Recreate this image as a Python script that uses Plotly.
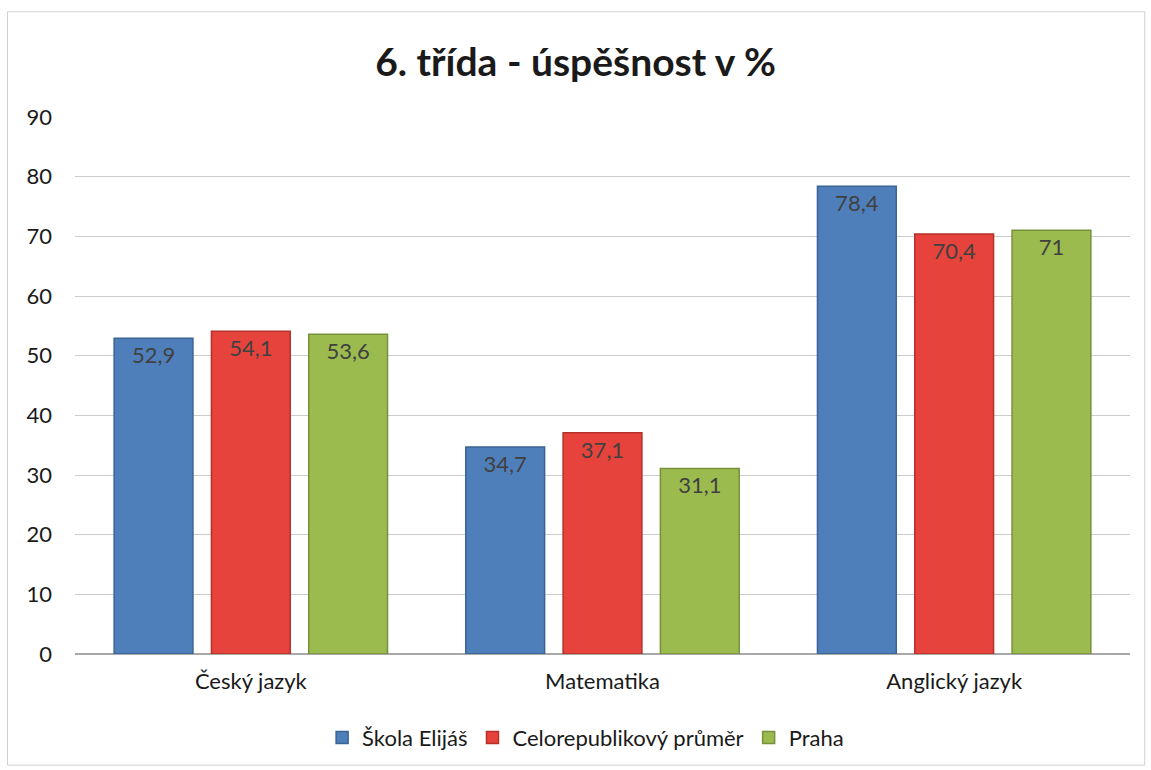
import plotly.graph_objects as go

categories = ["Český jazyk", "Matematika", "Anglický jazyk"]
series_names = ["Škola Elijáš", "Celorepublikový průměr", "Praha"]
skola = [52.9, 34.7, 78.4]
celorep = [54.1, 37.1, 70.4]
praha = [53.6, 31.1, 71]
y_ticks = [0, 10, 20, 30, 40, 50, 60, 70, 80, 90]

FONT = "Lato, Open Sans, sans-serif"
colors = ["#4F7FBB", "#E5433B", "#9BBB4F"]
edge = ["#3A6494", "#B8302A", "#76913A"]

fig = go.Figure()
for name, vals, c, e in zip(series_names, [skola, celorep, praha], colors, edge):
    fig.add_trace(go.Bar(
        name=name, x=categories, y=vals,
        marker=dict(color=c, line=dict(color=e, width=1.5)),
        text=[f"{v:g}".replace(".", ",") for v in vals],
        textposition="inside", insidetextanchor="end",
        textfont=dict(family=FONT, size=22, color="#404040"),
        textangle=0,
    ))

fig.update_layout(
    width=1151, height=770,
    paper_bgcolor="white", plot_bgcolor="white",
    margin=dict(l=75, r=21, t=117, b=116, autoexpand=False),
    title=dict(text="<b>6. třída - úspěšnost v %</b>", x=0.5, xanchor="center",
               y=1 - 62 / 770, yref="container", yanchor="middle",
               font=dict(family=FONT, size=39, color="#1a1a1a")),
    barmode="group", bargap=0.17, bargroupgap=0.19,
    showlegend=True,
    legend=dict(orientation="h", x=0.484, xanchor="center", y=-0.156, yanchor="middle",
                font=dict(family=FONT, size=22, color="#1a1a1a"),
                itemwidth=30, traceorder="normal"),
    shapes=[dict(type="rect", xref="paper", yref="paper",
                 x0=-0.064, x1=1.014, y0=-0.207, y1=1.196,
                 line=dict(color="#D0D0D0", width=1))],
)
fig.update_xaxes(showline=False, ticks="", showgrid=False, automargin=False,
                 ticklabelstandoff=12,
                 tickfont=dict(family=FONT, size=22, color="#1a1a1a"))
fig.update_yaxes(range=[0, 90], tickvals=y_ticks, showgrid=True, gridcolor="#CCCCCC",
                 gridwidth=1, zeroline=True, zerolinecolor="#A8A8A8", zerolinewidth=1.5,
                 ticks="", ticklabelstandoff=22, automargin=False,
                 tickfont=dict(family=FONT, size=22, color="#1a1a1a"))

fig.write_html("out.html", config={"displayModeBar": False},
               post_script="document.body.style.margin='0';")
